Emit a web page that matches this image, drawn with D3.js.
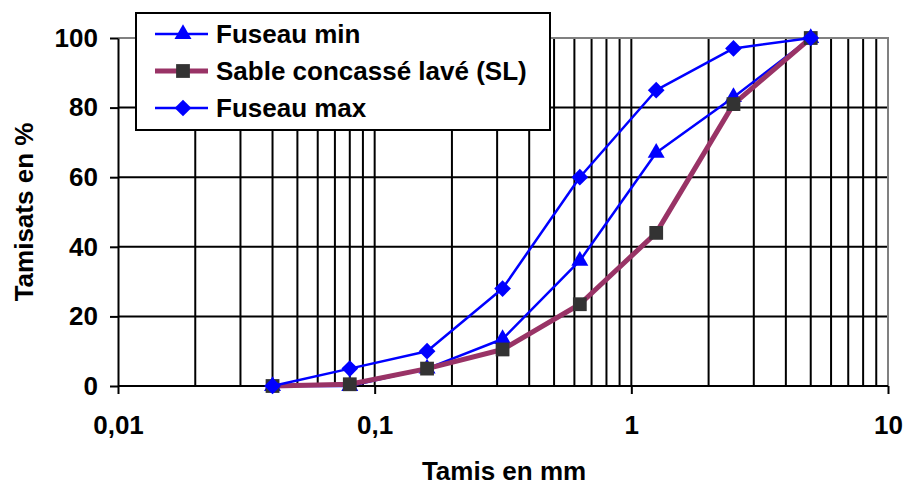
<!DOCTYPE html>
<html>
<head>
<meta charset="utf-8">
<script src="https://cdn.jsdelivr.net/npm/d3@7"></script>
<style>
  body { margin: 0; background: #fff; }
  text { font-family: "Liberation Sans", Arial, sans-serif; font-weight: bold; }
</style>
</head>
<body>
<div id="graph"></div>
<script>
// sieve sizes (mm) and passing percentages
var sieves = [0.04, 0.08, 0.16, 0.315, 0.63, 1.25, 2.5, 5];
var fuseauMin = [0, 0, 5, 13.5, 36, 67, 83, 100];
var sable = [0, 0.5, 5, 10.5, 23.5, 44, 81, 100];
var fuseauMax = [0, 5, 10, 28, 60, 85, 97, 100];

var xTicks = [0.01, 0.1, 1, 10];
var xTickLabels = ['0,01', '0,1', '1', '10'];
var yTicks = [0, 20, 40, 60, 80, 100];

var w = 907, h = 485;
var fontSize = '26px';

var svg = d3.select('#graph').append('svg').attr('width', w).attr('height', h);

var x = d3.scaleLog().domain([0.01, 10]).range([118, 888]);
var y = d3.scaleLinear().domain([0, 100]).range([386, 38]);

// vertical grid (minor + major, except the borders)
var gridX = x.ticks().filter(function(d) { return d > 0.0101 && d < 9.99; });
svg.append('g')
  .selectAll('line')
  .data(gridX)
  .enter()
  .append('line')
  .attr('x1', function(d) { return x(d); })
  .attr('x2', function(d) { return x(d); })
  .attr('y1', y(100))
  .attr('y2', y(0))
  .attr('stroke', '#000')
  .attr('stroke-width', 2);

// horizontal grid
svg.append('g')
  .selectAll('line')
  .data(yTicks.filter(function(d) { return d > 0 && d < 100; }))
  .enter()
  .append('line')
  .attr('x1', x(0.01))
  .attr('x2', x(10))
  .attr('y1', function(d) { return y(d); })
  .attr('y2', function(d) { return y(d); })
  .attr('stroke', '#000')
  .attr('stroke-width', 2);

// grey top / right border
svg.append('path')
  .attr('d', 'M' + x(0.01) + ',' + y(100) + 'H' + x(10) + 'V' + y(0))
  .attr('fill', 'none')
  .attr('stroke', '#808080')
  .attr('stroke-width', 2);

// axes
var xAxis = d3.axisBottom(x)
  .tickValues(xTicks)
  .tickFormat(function(d, i) { return xTickLabels[i]; })
  .tickSize(8)
  .tickSizeOuter(0)
  .tickPadding(22);

var yAxis = d3.axisLeft(y)
  .tickValues(yTicks)
  .tickSize(8)
  .tickSizeOuter(0)
  .tickPadding(12);

var gx = svg.append('g').attr('transform', 'translate(0,' + y(0) + ')').call(xAxis);
var gy = svg.append('g').attr('transform', 'translate(' + x(0.01) + ',0)').call(yAxis);

[gx, gy].forEach(function(g) {
  g.selectAll('path, line').attr('stroke', '#000').attr('stroke-width', 2);
  g.selectAll('text').attr('fill', '#000').style('font-size', fontSize).attr('font-family', null);
});
gx.select('.domain').attr('d', 'M' + x(0.01) + ',0H' + x(10));

// axis titles
svg.append('text')
  .attr('x', 504)
  .attr('y', 480)
  .attr('text-anchor', 'middle')
  .style('font-size', fontSize)
  .text('Tamis en mm');

svg.append('text')
  .attr('transform', 'translate(33,212) rotate(-90)')
  .attr('text-anchor', 'middle')
  .style('font-size', fontSize)
  .text('Tamisats en %');

// series (diamond = square turned 45 degrees)
var series = [
  { name: 'Fuseau min', values: fuseauMin, color: '#0000ff', width: 2.5, marker: d3.symbolTriangle, rot: 0, mColor: '#0000ff', mSize: 125 },
  { name: 'Sable concassé lavé (SL)', values: sable, color: '#993366', width: 5, marker: d3.symbolSquare, rot: 0, mColor: '#333333', mSize: 190 },
  { name: 'Fuseau max', values: fuseauMax, color: '#0000ff', width: 2.5, marker: d3.symbolSquare, rot: 45, mColor: '#0000ff', mSize: 140 }
];

var line = d3.line()
  .x(function(d) { return x(d[0]); })
  .y(function(d) { return y(d[1]); });

series.forEach(function(s) {
  var pts = sieves.map(function(v, i) { return [v, s.values[i]]; });
  var g = svg.append('g');
  g.append('path')
    .attr('d', line(pts))
    .attr('fill', 'none')
    .attr('stroke', s.color)
    .attr('stroke-width', s.width)
    .attr('stroke-linejoin', 'round');
  g.selectAll('path.m')
    .data(pts)
    .enter()
    .append('path')
    .attr('class', 'm')
    .attr('d', d3.symbol().type(s.marker).size(s.mSize))
    .attr('transform', function(d) { return 'translate(' + x(d[0]) + ',' + y(d[1]) + ') rotate(' + s.rot + ')'; })
    .attr('fill', s.mColor);
});

// legend
var legend = svg.append('g').attr('transform', 'translate(136,13)');
legend.append('rect')
  .attr('width', 414)
  .attr('height', 117)
  .attr('fill', '#fff')
  .attr('stroke', '#000')
  .attr('stroke-width', 2);

var items = legend.selectAll('g.item')
  .data(series)
  .enter()
  .append('g')
  .attr('class', 'item')
  .attr('transform', function(d, i) { return 'translate(0,' + (21 + i * 37) + ')'; });

items.append('line')
  .attr('x1', 19)
  .attr('x2', 72)
  .attr('stroke', function(d) { return d.color; })
  .attr('stroke-width', function(d) { return d.width; });

items.append('path')
  .attr('d', function(d) { return d3.symbol().type(d.marker).size(d.mSize)(); })
  .attr('transform', function(d) { return 'translate(47,0) rotate(' + d.rot + ')'; })
  .attr('fill', function(d) { return d.mColor; });

items.append('text')
  .attr('x', 80)
  .attr('y', 9)
  .style('font-size', fontSize)
  .text(function(d) { return d.name; });
</script>
</body>
</html>
